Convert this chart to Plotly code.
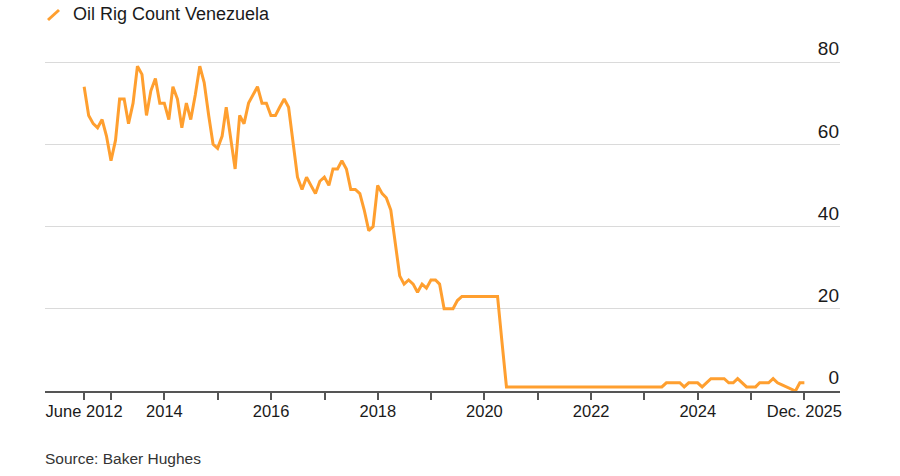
import pandas as pd
import plotly.graph_objects as go

# Monthly Venezuela oil rig count, June 2012 .. Dec 2025 (month-end)
start_month = "2012-06-30"
rig_count = [
    74, 67, 65, 64, 66, 62, 56, 61, 71, 71,
    65, 70, 79, 77, 67, 73, 76, 70, 70, 66,
    74, 71, 64, 70, 66, 72, 79, 75, 67, 60,
    59, 62, 69, 61, 54, 67, 65, 70, 72, 74,
    70, 70, 67, 67, 69, 71, 69, 60, 52, 49,
    52, 50, 48, 51, 52, 50, 54, 54, 56, 54,
    49, 49, 48, 44, 39, 40, 50, 48, 47, 44,
    36, 28, 26, 27, 26, 24, 26, 25, 27, 27,
    26, 20, 20, 20, 22, 23, 23, 23, 23, 23,
    23, 23, 23, 23, 12, 1, 1, 1, 1, 1,
    1, 1, 1, 1, 1, 1, 1, 1, 1, 1,
    1, 1, 1, 1, 1, 1, 1, 1, 1, 1,
    1, 1, 1, 1, 1, 1, 1, 1, 1, 1,
    1, 2, 2, 2, 2, 1, 2, 2, 2, 1,
    2, 3, 3, 3, 3, 2, 2, 3, 2, 1,
    1, 1, 2, 2, 2, 3, 2, 1.5, 1, 0.5,
    0, 2, 2,
]
dates = pd.date_range(start_month, periods=len(rig_count), freq="ME")

x_tick_vals = ["2012-06-30", "2013-01-01", "2014-01-01", "2015-01-01", "2016-01-01",
               "2017-01-01", "2018-01-01", "2019-01-01", "2020-01-01", "2021-01-01",
               "2022-01-01", "2023-01-01", "2024-01-01", "2025-01-01", "2025-12-31"]
x_tick_text = ["June 2012", "", "2014", "", "2016", "", "2018", "", "2020", "",
               "2022", "", "2024", "", "Dec. 2025"]
y_tick_vals = [0, 20, 40, 60, 80]

FONT = "Liberation Sans, Arial, sans-serif"
ORANGE = "#FF9F2F"
TEXT = "#1a1a1a"

# plot area: x 45..840 px, y 24..391 px (value 0 at 391, 80 at 62)
TOP, BOTTOM = 24, 391
PX_PER_UNIT = (391 - 62) / 80.0
Y_MAX = (BOTTOM - TOP) / PX_PER_UNIT
PH = BOTTOM - TOP


def py(p):
    return (BOTTOM - p) / PH


fig = go.Figure()
fig.add_trace(go.Scatter(
    x=dates, y=rig_count, mode="lines",
    line=dict(color=ORANGE, width=3),
    name="Oil Rig Count Venezuela", showlegend=False,
))

fig.update_layout(
    width=900, height=476,
    margin=dict(l=45, r=60, t=TOP, b=476 - BOTTOM),
    paper_bgcolor="white", plot_bgcolor="white",
    font=dict(family=FONT, color=TEXT),
    xaxis=dict(
        type="date",
        range=["2011-10-06", "2026-09-01"],
        tickvals=x_tick_vals, ticktext=x_tick_text,
        showgrid=False, zeroline=False,
        showline=True, linecolor="#555555", linewidth=1.5,
        ticks="outside", ticklen=7, tickwidth=1.5, tickcolor="#555555",
        tickfont=dict(size=16.5, color=TEXT),
        ticklabelstandoff=-3,
    ),
    yaxis=dict(
        range=[0, Y_MAX], side="right",
        tickvals=y_tick_vals,
        ticklabelposition="inside top",
        ticklabelstandoff=-2,
        showgrid=True, gridcolor="#dadada", gridwidth=1.3,
        zeroline=False, showline=False, ticks="",
        tickfont=dict(size=19, color=TEXT),
    ),
    shapes=[dict(
        type="line", xref="paper", yref="paper",
        x0=(48 - 45) / 795, y0=py(20),
        x1=(59 - 45) / 795, y1=py(10),
        line=dict(color=ORANGE, width=3),
    )],
    annotations=[
        dict(text="Oil Rig Count Venezuela", xref="paper", yref="paper",
             x=(71 - 45) / 795, y=py(14), xanchor="left", yanchor="middle",
             showarrow=False, font=dict(size=18, color=TEXT, family=FONT)),
        dict(text="Source: Baker Hughes", xref="paper", yref="paper",
             x=-2 / 795, y=py(458.5), xanchor="left", yanchor="middle",
             showarrow=False, font=dict(size=15.5, color="#333333", family=FONT)),
    ],
)

fig.write_html("out.html", config={"displayModeBar": False},
               post_script="document.body.style.margin='0';")
